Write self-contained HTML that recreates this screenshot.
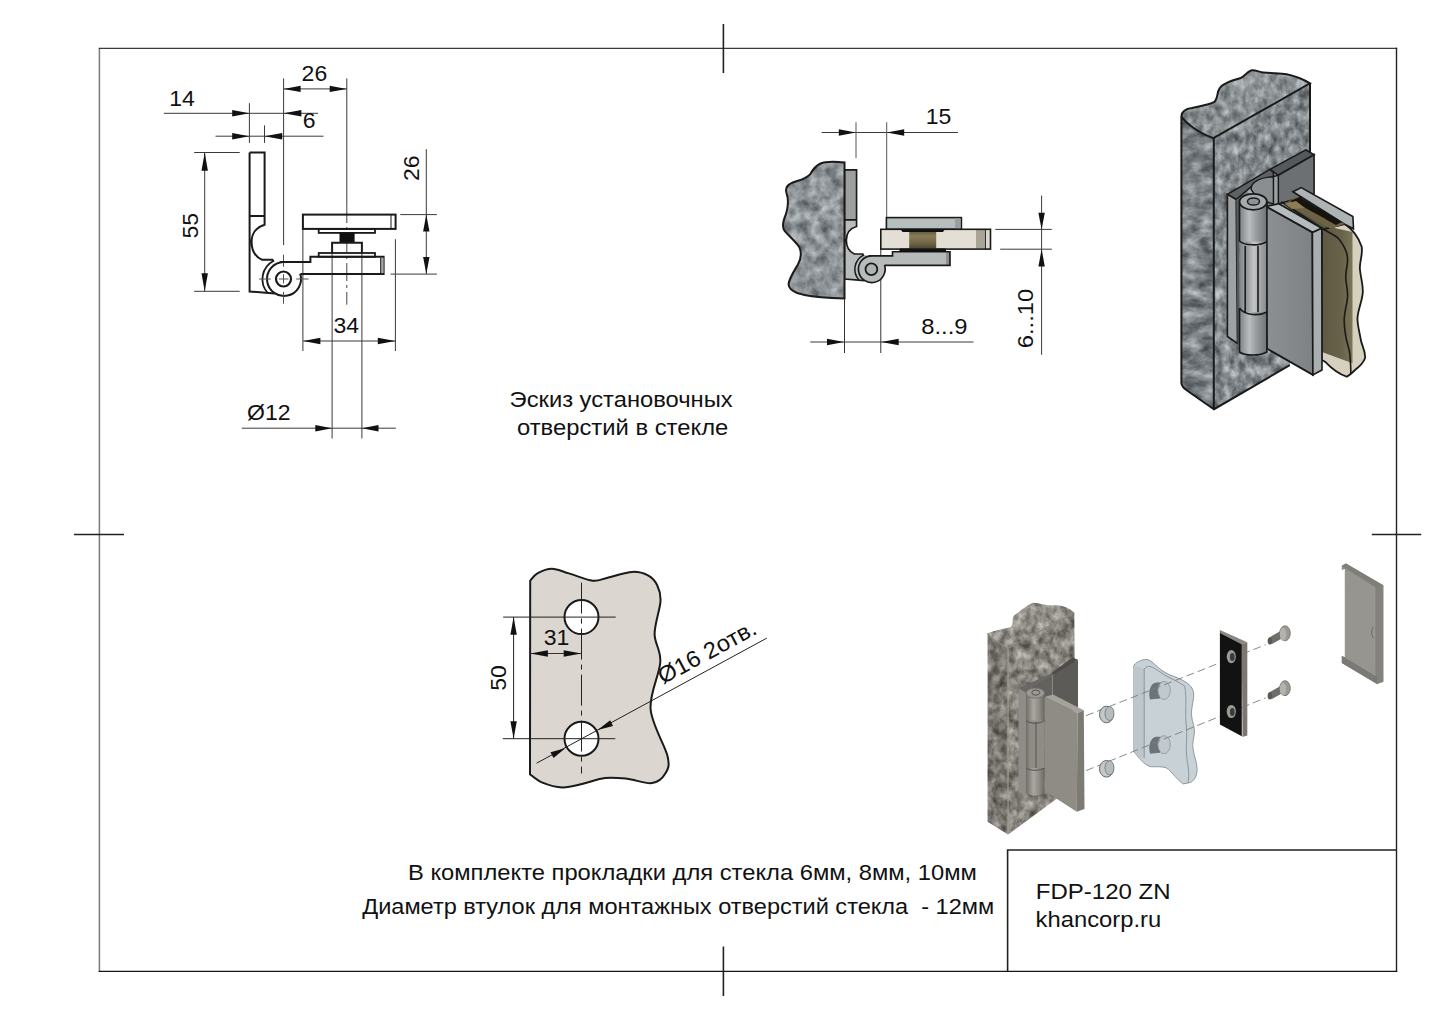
<!DOCTYPE html>
<html><head><meta charset="utf-8"><style>
html,body{margin:0;padding:0;background:#fff;width:1443px;height:1020px;overflow:hidden}
svg{display:block}
text{font-family:"Liberation Sans",sans-serif}
</style></head><body>
<svg width="1443" height="1020" viewBox="0 0 1443 1020">
<defs>
<filter id="stoneG" x="0" y="0" width="100%" height="100%" color-interpolation-filters="sRGB">
  <feTurbulence type="fractalNoise" baseFrequency="0.10 0.09" numOctaves="4" seed="7" result="n"/>
  <feColorMatrix in="n" type="matrix" values="0.6 0 0 0 0.252  0.6 0 0 0 0.276  0.6 0 0 0 0.287  0 0 0 0 1" result="g"/>
  <feComposite in="g" in2="SourceGraphic" operator="in"/>
</filter>
<filter id="stoneT" x="0" y="0" width="100%" height="100%" color-interpolation-filters="sRGB">
  <feTurbulence type="fractalNoise" baseFrequency="0.13 0.09" numOctaves="4" seed="11" result="n"/>
  <feColorMatrix in="n" type="matrix" values="0.65 0 0 0 0.18  0.65 0 0 0 0.204  0.65 0 0 0 0.215  0 0 0 0 1" result="g"/>
  <feComposite in="g" in2="SourceGraphic" operator="in"/>
</filter>
<filter id="stoneL" x="0" y="0" width="100%" height="100%" color-interpolation-filters="sRGB">
  <feTurbulence type="fractalNoise" baseFrequency="0.06 0.10" numOctaves="4" seed="5" result="n"/>
  <feColorMatrix in="n" type="matrix" values="0.65 0 0 0 0.156  0.65 0 0 0 0.18  0.65 0 0 0 0.192  0 0 0 0 1" result="g"/>
  <feComposite in="g" in2="SourceGraphic" operator="in"/>
</filter>
<filter id="stoneB" x="0" y="0" width="100%" height="100%" color-interpolation-filters="sRGB">
  <feTurbulence type="fractalNoise" baseFrequency="0.13 0.10" numOctaves="4" seed="21" result="n"/>
  <feColorMatrix in="n" type="matrix" values="0.68 0 0 0 0.19  0.68 0 0 0 0.175  0.68 0 0 0 0.15  0 0 0 0 1" result="g"/>
  <feComposite in="g" in2="SourceGraphic" operator="in"/>
</filter>
<linearGradient id="knG" x1="0" x2="1" y1="0" y2="0">
  <stop offset="0" stop-color="#7d8184"/><stop offset="0.35" stop-color="#b9bdbf"/><stop offset="0.6" stop-color="#9a9ea1"/><stop offset="1" stop-color="#6f7376"/>
</linearGradient>
<linearGradient id="knG2" x1="0" x2="1" y1="0" y2="0">
  <stop offset="0" stop-color="#8a8e90"/><stop offset="0.4" stop-color="#c4c6c6"/><stop offset="0.7" stop-color="#a3a6a7"/><stop offset="1" stop-color="#85898a"/>
</linearGradient>
<linearGradient id="leafG" x1="0" x2="1" y1="0" y2="0">
  <stop offset="0" stop-color="#8c9093"/><stop offset="1" stop-color="#7e8285"/>
</linearGradient>
<linearGradient id="glassG" x1="0" x2="1" y1="0" y2="0">
  <stop offset="0" stop-color="#3b372a"/><stop offset="0.4" stop-color="#57523f"/><stop offset="0.85" stop-color="#69634b"/><stop offset="1" stop-color="#7a7458"/>
</linearGradient>
<linearGradient id="bushG" x1="0" x2="0" y1="0" y2="1">
  <stop offset="0" stop-color="#5a5036"/><stop offset="0.3" stop-color="#8a7d58"/><stop offset="0.7" stop-color="#6f6546"/><stop offset="1" stop-color="#4e4530"/>
</linearGradient>
</defs>
<defs>
<linearGradient id="knB" x1="0" x2="1" y1="0" y2="0">
  <stop offset="0" stop-color="#6f6d68"/><stop offset="0.4" stop-color="#a9a6a0"/><stop offset="0.7" stop-color="#8f8c86"/><stop offset="1" stop-color="#6a6863"/>
</linearGradient>
<linearGradient id="holeG" x1="0" x2="1" y1="0" y2="0">
  <stop offset="0" stop-color="#5e666a"/><stop offset="1" stop-color="#a9b2b6"/>
</linearGradient>
</defs>

<line x1="99.4" y1="48.4" x2="99.4" y2="971.4" stroke="#7a7a7a" stroke-width="1.5" />
<line x1="98.7" y1="48.4" x2="1397.2" y2="48.4" stroke="#3a3a3a" stroke-width="1.4" />
<line x1="1396.5" y1="47.7" x2="1396.5" y2="972.1" stroke="#222" stroke-width="1.4" />
<line x1="98.7" y1="971.4" x2="1397.2" y2="971.4" stroke="#151515" stroke-width="1.4" />
<line x1="723.4" y1="24.0" x2="723.4" y2="73.0" stroke="#222" stroke-width="1.6" />
<line x1="723.4" y1="946.5" x2="723.4" y2="996.0" stroke="#222" stroke-width="1.6" />
<line x1="74.0" y1="534.5" x2="124.0" y2="534.5" stroke="#222" stroke-width="1.6" />
<line x1="1371.8" y1="534.5" x2="1421.2" y2="534.5" stroke="#222" stroke-width="1.6" />
<polyline points="1007.6,971.3 1007.6,850 1396.5,850" fill="none" stroke="#222" stroke-width="1.6"/>
<line x1="163.8" y1="113.3" x2="318.1" y2="113.3" stroke="#3a3a3a" stroke-width="1.0" />
<polygon points="249.4,113.3 232.2,110.1 232.2,116.5" fill="#111"/>
<polygon points="283.6,113.3 301.4,116.5 301.4,110.1" fill="#111"/>
<line x1="249.4" y1="103.1" x2="249.4" y2="142.9" stroke="#3a3a3a" stroke-width="1.0" />
<line x1="215.5" y1="136.2" x2="323.5" y2="136.2" stroke="#3a3a3a" stroke-width="1.0" />
<polygon points="249.4,136.2 232.2,133.0 232.2,139.4" fill="#111"/>
<polygon points="264.5,136.2 282.2,139.4 282.2,133.0" fill="#111"/>
<line x1="264.5" y1="125.4" x2="264.5" y2="142.9" stroke="#3a3a3a" stroke-width="1.0" />
<line x1="283.6" y1="88.9" x2="346.8" y2="88.9" stroke="#3a3a3a" stroke-width="1.0" />
<polygon points="283.6,88.9 300.6,92.1 300.6,85.7" fill="#111"/>
<polygon points="346.8,88.9 329.7,85.7 329.7,92.1" fill="#111"/>
<line x1="283.6" y1="78.4" x2="283.6" y2="245.1" stroke="#3a3a3a" stroke-width="1.0" />
<line x1="346.8" y1="78.4" x2="346.8" y2="205.0" stroke="#3a3a3a" stroke-width="1.0" />
<line x1="204.7" y1="152.5" x2="204.7" y2="291.3" stroke="#3a3a3a" stroke-width="1.0" />
<polygon points="204.7,152.5 201.5,170.8 207.9,170.8" fill="#111"/>
<polygon points="204.7,291.3 207.9,273.3 201.5,273.3" fill="#111"/>
<line x1="194.2" y1="152.5" x2="239.7" y2="152.5" stroke="#3a3a3a" stroke-width="1.0" />
<line x1="194.2" y1="291.3" x2="239.7" y2="291.3" stroke="#3a3a3a" stroke-width="1.0" />
<line x1="426.3" y1="149.1" x2="426.3" y2="274.1" stroke="#3a3a3a" stroke-width="1.0" />
<polygon points="426.3,214.6 423.1,231.6 429.5,231.6" fill="#111"/>
<polygon points="426.3,274.1 429.5,257.1 423.1,257.1" fill="#111"/>
<line x1="400.3" y1="214.6" x2="436.9" y2="214.6" stroke="#3a3a3a" stroke-width="1.0" />
<line x1="390.6" y1="274.1" x2="436.9" y2="274.1" stroke="#3a3a3a" stroke-width="1.0" />
<line x1="395.4" y1="239.2" x2="395.4" y2="351.0" stroke="#3a3a3a" stroke-width="1.0" />
<line x1="303.2" y1="341.0" x2="395.4" y2="341.0" stroke="#3a3a3a" stroke-width="1.0" />
<polygon points="303.2,341.0 320.4,344.2 320.4,337.8" fill="#111"/>
<polygon points="395.4,341.0 377.8,337.8 377.8,344.2" fill="#111"/>
<line x1="302.9" y1="228.9" x2="302.9" y2="351.0" stroke="#3a3a3a" stroke-width="1.0" />
<line x1="241.8" y1="428.2" x2="395.9" y2="428.2" stroke="#3a3a3a" stroke-width="1.0" />
<polygon points="332.1,428.2 315.3,425.0 315.3,431.4" fill="#111"/>
<polygon points="361.9,428.2 378.5,431.4 378.5,425.0" fill="#111"/>
<line x1="332.1" y1="253.5" x2="332.1" y2="438.5" stroke="#3a3a3a" stroke-width="1.0" />
<line x1="361.9" y1="253.5" x2="361.9" y2="438.5" stroke="#3a3a3a" stroke-width="1.0" />
<line x1="346.8" y1="205" x2="346.8" y2="304.7" stroke="#444" stroke-width="1" stroke-dasharray="18,4,3,4"/>
<path d="M249.6,152.5 H264.6 V224.7 C255,227.5 251.6,235 251.6,242 C251.6,250 255,256.5 261.8,259.7 H272.4 L273.8,261.8 M249.6,152.5 V291.5 L274.7,293.5 M249.6,216.1 H264.6" fill="none" stroke="#1a1a1a" stroke-width="2.0" stroke-linejoin="miter"/>
<path d="M300.2,273.8 A17,17 0 1 1 283.5,262" fill="none" stroke="#1a1a1a" stroke-width="2.0"/>
<path d="M273.3,261.0 A20.6,20.6 0 0 0 267.6,292.8" fill="none" stroke="#1a1a1a" stroke-width="1.8"/>
<circle cx="283.5" cy="279" r="7.5" fill="none" stroke="#1a1a1a" stroke-width="2.2"/>
<line x1="259.1" y1="279.0" x2="270.9" y2="279.0" stroke="#555" stroke-width="1.0" />
<line x1="278.8" y1="279.0" x2="288.5" y2="279.0" stroke="#555" stroke-width="1.0" />
<line x1="296.2" y1="279.0" x2="308.5" y2="279.0" stroke="#555" stroke-width="1.0" />
<line x1="283.5" y1="254.7" x2="283.5" y2="266.8" stroke="#555" stroke-width="1.0" />
<line x1="283.5" y1="274.1" x2="283.5" y2="283.5" stroke="#555" stroke-width="1.0" />
<line x1="283.5" y1="291.8" x2="283.5" y2="303.8" stroke="#555" stroke-width="1.0" />
<path d="M280,262.1 H310.4 V256.8 H383.6 V274.1 H300.5" fill="none" stroke="#1a1a1a" stroke-width="2.0"/>
<rect x="380.7" y="257.8" width="2.9" height="15.3" fill="#aaa"/>
<line x1="380.7" y1="257.5" x2="380.7" y2="273.5" stroke="#1a1a1a" stroke-width="1.0" />
<rect x="302.9" y="214.6" width="92.7" height="14.3" fill="none" stroke="#1a1a1a" stroke-width="2.0"/>
<line x1="391.0" y1="215.0" x2="391.0" y2="228.5" stroke="#1a1a1a" stroke-width="1.0" />
<rect x="318.7" y="228.9" width="56.3" height="4.0" fill="none" stroke="#1a1a1a" stroke-width="1.8"/>
<rect x="318.7" y="253.0" width="56.3" height="3.8" fill="none" stroke="#1a1a1a" stroke-width="1.8"/>
<rect x="339.5" y="232.9" width="15.1" height="10.0" fill="#111"/>
<path d="M332.1,253.5 V242.7 H361.9 V253.5" fill="none" stroke="#1a1a1a" stroke-width="2.0"/>
<text style="white-space:pre" x="169.2" y="106.0" font-size="22" text-anchor="start" fill="#111" textLength="25.58" lengthAdjust="spacingAndGlyphs">14</text>
<text style="white-space:pre" x="301.6" y="80.9" font-size="22" text-anchor="start" fill="#111" textLength="25.58" lengthAdjust="spacingAndGlyphs">26</text>
<text style="white-space:pre" x="302.8" y="127.9" font-size="22" text-anchor="start" fill="#111" textLength="12.79" lengthAdjust="spacingAndGlyphs">6</text>
<text style="white-space:pre" x="197.5" y="238.5" font-size="22" text-anchor="start" fill="#111" transform="rotate(-90 197.5 238.5)" textLength="25.58" lengthAdjust="spacingAndGlyphs">55</text>
<text style="white-space:pre" x="418.7" y="181.0" font-size="22" text-anchor="start" fill="#111" transform="rotate(-90 418.7 181.0)" textLength="25.58" lengthAdjust="spacingAndGlyphs">26</text>
<text style="white-space:pre" x="333.5" y="333.4" font-size="22" text-anchor="start" fill="#111" textLength="25.58" lengthAdjust="spacingAndGlyphs">34</text>
<text style="white-space:pre" x="247.0" y="420.0" font-size="22" text-anchor="start" fill="#111" textLength="43.48" lengthAdjust="spacingAndGlyphs">Ø12</text>
<path d="M844.5,162.4 C835,161.5 825,161.5 820.6,163.5 C815,166 812,171 810.3,174.1 C806,179 800,180 793.4,182.2 C787,184.5 785,188 786.5,193 C788.5,199 788.5,206 786,214 C783,221 781.5,227 784.6,230.9 C788,235 795,241 799.3,247.1 C801.5,252 801,259 797.8,264.7 C794,271 789,279 788.6,283.8 C788.5,289 795,293.5 804.4,294.9 C815,297 830,298 844.5,298.5 Z" fill="#8e9496" filter="url(#stoneG)"/>
<path d="M844.5,162.4 C835,161.5 825,161.5 820.6,163.5 C815,166 812,171 810.3,174.1 C806,179 800,180 793.4,182.2 C787,184.5 785,188 786.5,193 C788.5,199 788.5,206 786,214 C783,221 781.5,227 784.6,230.9 C788,235 795,241 799.3,247.1 C801.5,252 801,259 797.8,264.7 C794,271 789,279 788.6,283.8 C788.5,289 795,293.5 804.4,294.9 C815,297 830,298 844.5,298.5 Z" fill="none" stroke="#1a1a1a" stroke-width="2"/>
<line x1="821.6" y1="132.5" x2="958.0" y2="132.5" stroke="#3a3a3a" stroke-width="1.0" />
<polygon points="856.0,132.5 838.8,129.3 838.8,135.7" fill="#111"/>
<polygon points="886.7,132.5 904.2,135.7 904.2,129.3" fill="#111"/>
<line x1="856.0" y1="122.2" x2="856.0" y2="158.2" stroke="#555" stroke-width="1.0" />
<line x1="886.7" y1="122.2" x2="886.7" y2="217.6" stroke="#555" stroke-width="1.0" />
<text style="white-space:pre" x="925.8" y="124.4" font-size="22" text-anchor="start" fill="#111" textLength="25.58" lengthAdjust="spacingAndGlyphs">15</text>
<line x1="810.3" y1="342.0" x2="973.5" y2="342.0" stroke="#3a3a3a" stroke-width="1.0" />
<polygon points="844.1,342.0 827.0,338.8 827.0,345.2" fill="#111"/>
<polygon points="881.2,342.0 898.7,345.2 898.7,338.8" fill="#111"/>
<line x1="844.5" y1="298.5" x2="844.5" y2="353.0" stroke="#333" stroke-width="1.0" />
<line x1="880.8" y1="249.1" x2="880.8" y2="353.0" stroke="#333" stroke-width="1.0" />
<text style="white-space:pre" x="921.2" y="333.9" font-size="22" text-anchor="start" fill="#111" textLength="46.3" lengthAdjust="spacingAndGlyphs">8...9</text>
<line x1="1041.6" y1="195.5" x2="1041.6" y2="354.8" stroke="#3a3a3a" stroke-width="1.0" />
<polygon points="1041.6,229.4 1044.8,212.7 1038.4,212.7" fill="#111"/>
<polygon points="1041.6,249.2 1038.4,266.5 1044.8,266.5" fill="#111"/>
<line x1="995.3" y1="229.4" x2="1051.8" y2="229.4" stroke="#3a3a3a" stroke-width="1.0" />
<line x1="1000.2" y1="249.2" x2="1051.8" y2="249.2" stroke="#3a3a3a" stroke-width="1.0" />
<text style="white-space:pre" x="1033.3" y="348.2" font-size="22" text-anchor="start" fill="#111" transform="rotate(-90 1033.3 348.2)" textLength="59.3" lengthAdjust="spacingAndGlyphs">6...10</text>
<g transform="translate(648.85,50.185) scale(0.785)">
<path d="M249.6,152.5 H264.6 V216.1 H249.6 Z" fill="#9d9f9f"/>
<path d="M249.6,216.1 H264.6 V224.7 C255,227.5 251.6,235 251.6,242 C251.6,250 255,256.5 261.8,259.7 H273.3 L274,262 L267,292.8 L249.6,291.5 Z" fill="#b9bcbc"/>
<circle cx="283.5" cy="279" r="17" fill="#b9bcbc"/>
<path d="M273.3,261.0 A20.6,20.6 0 0 0 267.6,292.8 L280,296 L283.5,262 Z" fill="#b9bcbc"/>
<path d="M275,262.1 H310.4 V256.8 H383.6 V274.1 H295 Z" fill="#b6bbba"/>
<rect x="378.6" y="257.5" width="5" height="16" fill="#8c9090"/>
<path d="M249.6,152.5 H264.6 V224.7 C255,227.5 251.6,235 251.6,242 C251.6,250 255,256.5 261.8,259.7 H272.4 L273.8,261.8 M249.6,152.5 V291.5 L274.7,293.5 M249.6,216.1 H264.6" fill="none" stroke="#1a1a1a" stroke-width="2.1"/>
<path d="M300.2,273.8 A17,17 0 1 1 283.5,262" fill="none" stroke="#1a1a1a" stroke-width="2.1"/>
<path d="M273.3,261.0 A20.6,20.6 0 0 0 267.6,292.8" fill="none" stroke="#1a1a1a" stroke-width="1.9"/>
<circle cx="283.5" cy="279" r="7.5" fill="#b0b3b3" stroke="#1a1a1a" stroke-width="2.3"/>
<path d="M280,262.1 H310.4 V256.8 H383.6 V274.1 H300.5" fill="none" stroke="#1a1a1a" stroke-width="2.1"/>
</g>
<rect x="886.4" y="217.6" width="75" height="11.7" fill="#b7bfbe" stroke="#1a1a1a" stroke-width="1.6"/>
<rect x="955" y="218.5" width="5.5" height="10" fill="#9aa0a0"/>
<rect x="880.8" y="229.3" width="109.7" height="19.8" fill="#e3dfd5"/>
<rect x="909.2" y="230.5" width="27" height="18" fill="url(#bushG)"/>
<rect x="976" y="230" width="8" height="18.5" fill="#a9a496"/>
<rect x="985.3" y="230" width="4.5" height="18.5" fill="#dcd8ce"/>
<rect x="880.8" y="229.3" width="109.7" height="19.8" fill="none" stroke="#1a1a1a" stroke-width="1.6"/>
<line x1="985.3" y1="229.5" x2="985.3" y2="249.0" stroke="#1a1a1a" stroke-width="1.2" />
<path d="M900.6,229.3 H944.8 L943,232 H902.5 Z" fill="#111"/>
<path d="M900,248.6 H945.5 L946.5,252 H899 Z" fill="#111"/>
<path d="M1181.5,116 C1182,110 1188,108.5 1192,108 C1200,106.5 1210,104.5 1214,102.2 C1218,99 1217,92 1219.2,89.2 C1221,85 1230,81 1240,78.3 C1245,76 1248,71 1251.7,70.3 C1256,70 1259,72 1263.3,72.5 C1272,73.5 1280,73 1286.7,74.2 C1295,76 1303,79 1310,83.3 L1213.4,138.2 C1205,135 1196,130 1190.6,125.7 C1186,122 1182,119 1181.5,116 Z" fill="#9aa0a2" filter="url(#stoneT)"/>
<path d="M1181.5,116 C1182,119 1186,122 1190.6,125.7 C1196,130 1205,135 1213.4,138.2 L1214,409.2 L1189.1,392 C1183,388 1181.2,385 1181.2,383 Z" fill="#8d9395" filter="url(#stoneL)"/>
<path d="M1213.4,138.2 L1310,83.3 L1310,260 L1289.8,365.2 L1214,409.2 Z" fill="#8d9395" filter="url(#stoneT)"/>
<path d="M1181.5,116 C1182,110 1188,108.5 1192,108 C1200,106.5 1210,104.5 1214,102.2 C1218,99 1217,92 1219.2,89.2 C1221,85 1230,81 1240,78.3 C1245,76 1248,71 1251.7,70.3 C1256,70 1259,72 1263.3,72.5 C1272,73.5 1280,73 1286.7,74.2 C1295,76 1303,79 1310,83.3 L1213.4,138.2 C1205,135 1196,130 1190.6,125.7 C1186,122 1182,119 1181.5,116 Z" fill="#fff" fill-opacity="0.1"/>
<path d="M1181.5,116 C1182,110 1188,108.5 1192,108 C1200,106.5 1210,104.5 1214,102.2 C1218,99 1217,92 1219.2,89.2 C1221,85 1230,81 1240,78.3 C1245,76 1248,71 1251.7,70.3 C1256,70 1259,72 1263.3,72.5 C1272,73.5 1280,73 1286.7,74.2 C1295,76 1303,79 1310,83.3 L1213.4,138.2 C1205,135 1196,130 1190.6,125.7 C1186,122 1182,119 1181.5,116 Z M1213.8,138.2 V409.2 M1181.4,116 V383 C1181.2,386 1183,388 1189.1,392 L1214,409.2 L1289.8,365.2 M1310,83.3 V154" fill="none" stroke="#1a1a1a" stroke-width="2"/>
<path d="M1270,169.4 L1305.8,149.8 L1314.1,154.7 L1278.3,175.3 Z" fill="#55595c" stroke="#1a1a1a" stroke-width="1.6"/>
<path d="M1278.3,175.3 L1314.1,154.7 L1314.1,193.4 L1278.3,204 Z" fill="#6c7073" stroke="#1a1a1a" stroke-width="1.6"/>
<path d="M1273.4,176.5 L1278.3,175.3 L1278.3,204 L1273.4,206 Z" fill="#9ca0a2" stroke="#1a1a1a" stroke-width="1.4"/>
<path d="M1227.4,194.4 L1270,169.4 L1273.4,172.5 L1273.4,176.5 L1258,181 L1236.2,199.5 Z" fill="#5e6265" stroke="#1a1a1a" stroke-width="1.6"/>
<path d="M1251.4,190 C1250,183 1258,177.5 1273.4,176.8 L1273.4,204 L1258,199 Z" fill="#8a8e91" stroke="#1a1a1a" stroke-width="1.4"/>
<path d="M1227.4,194.4 L1236.2,199.5 L1237.5,343.5 L1227.4,336.5 Z" fill="#9ea2a4" stroke="#1a1a1a" stroke-width="1.6"/>
<path d="M1236.2,199.5 L1239,199 L1240,343 L1237.5,343.5 Z" fill="#55595b"/>
<path d="M1281.2,201.8 L1323.3,229.2 L1344.7,224.1 C1352,229 1358,236 1361.7,246.7 C1363,256 1359,262 1360,270 C1361,280 1364,287 1362.5,295 C1361,305 1357,312 1357.5,320 C1358,328 1360,334 1360.8,340 C1362,346 1366,352 1365,358.3 C1363,364 1359,367 1355,370 C1352,373 1350,375 1346.7,376.7 C1338,374 1331,368 1325,361.7 L1321.8,360 L1321.8,228.2 Z" fill="#d6d1bf"/>
<path d="M1281.2,201.8 L1330,227 L1352.5,232 L1352.5,363.3 L1322,352 L1321.8,228.2 Z" fill="url(#glassG)"/>
<path d="M1281.2,201.8 L1323.3,229.2 L1344.7,224.1 C1352,229 1358,236 1361.7,246.7 C1363,256 1359,262 1360,270 C1361,280 1364,287 1362.5,295 C1361,305 1357,312 1357.5,320 C1358,328 1360,334 1360.8,340 C1362,346 1366,352 1365,358.3 C1363,364 1359,367 1355,370 C1352,373 1350,375 1346.7,376.7 C1338,374 1331,368 1325,361.7 L1321.8,360 L1321.8,228.2 Z" fill="none" stroke="#1a1a1a" stroke-width="1.8"/>
<path d="M1323.3,229.2 C1330,233 1336,236 1338.3,238.3 C1343,244 1347,251 1347.5,258.3 C1348,266 1345,272 1345.8,278.3 C1346,285 1348,290 1347.5,296.7 C1347,306 1344,312 1344.2,320 C1344,326 1345,331 1345.8,336.7 C1347,344 1350,350 1350,356.7 C1350.5,363 1351,368 1350.8,373.3" fill="none" stroke="#1a1a1a" stroke-width="1.6"/>
<path d="M1292.9,191.8 L1301.2,187.6 L1352.9,216.5 L1353.5,228.8 L1344.7,224.1 Z" fill="#aeb3b6" stroke="#1a1a1a" stroke-width="1.6"/>
<path d="M1296,196 L1344.7,224.1 L1330.6,228.8 L1285,204 Z" fill="#6d6244"/>
<path d="M1290,201 L1300,197 C1310,203 1325,212 1342,222 L1336,225 C1320,216 1305,207 1290,201 Z" fill="#15140f"/>
<path d="M1285,204 L1296,201 L1305,208 L1292,209 Z" fill="#8c7d55"/>
<path d="M1265.9,206.5 L1278.8,203.7 L1321.8,228.2 L1312.4,232.4 Z" fill="#b6bbbe" stroke="#1a1a1a" stroke-width="1.6"/>
<path d="M1265.9,206.5 L1312.4,232.4 L1312.9,374.9 L1266.9,348.6 Z" fill="url(#leafG)" stroke="#1a1a1a" stroke-width="1.8"/>
<path d="M1312.4,232.4 L1321.8,228.2 L1322,370 L1312.9,374.9 Z" fill="#a9aeb1" stroke="#1a1a1a" stroke-width="1.6"/>
<path d="M1239.5,201.8 L1239.5,352 C1245,356 1260,356 1266.9,352 L1266.9,201.8 Z" fill="url(#knG)"/>
<path d="M1245.2,241.6 L1245.2,312 L1266.9,312 L1266.9,241.6 Z" fill="url(#knG2)"/>
<path d="M1239.5,201.8 V241 C1245,246 1260,246 1266.9,241.6 M1245.2,246 V312 M1239.5,308 V352 C1245,356 1260,356 1266.9,352 V201.8 M1239.5,308 C1245,316 1260,316 1266.9,312 M1258,246 V312" fill="none" stroke="#1a1a1a" stroke-width="1.6"/>
<ellipse cx="1253.2" cy="201.8" rx="13.7" ry="8" fill="#a6aaad" stroke="#1a1a1a" stroke-width="1.8"/>
<ellipse cx="1253.5" cy="201.5" rx="6" ry="3.6" fill="#8e9295" stroke="#1a1a1a" stroke-width="1.5"/>
<path d="M987.6,633.3 C995,630 1005,629 1010.6,627 C1015,624 1010,618 1016,614 C1022,610 1028,604 1033.5,602.7 C1040,603 1046,606 1053.9,605.3 C1062,605 1070,608 1074.3,612.9 L1008,648.6 C1000,644 992,640 987.6,633.3 Z" fill="#8a857b" filter="url(#stoneB)"/>
<path d="M987.6,633.3 C992,640 1000,644 1008,648.6 L1008,834.6 L987.6,821.8 Z" fill="#7f7a70" filter="url(#stoneB)"/>
<path d="M1008,648.6 L1074.3,612.9 L1075.5,800 L1056.4,798.9 L1008,834.6 Z" fill="#878278" filter="url(#stoneB)"/>
<path d="M987.6,633.3 C992,640 1000,644 1008,648.6 L1008,834.6 L987.6,821.8 Z" fill="#000" fill-opacity="0.10"/>
<path d="M987.6,633.3 C995,630 1005,629 1010.6,627 C1015,624 1010,618 1016,614 C1022,610 1028,604 1033.5,602.7 C1040,603 1046,606 1053.9,605.3 C1062,605 1070,608 1074.3,612.9 L1008,648.6 C1000,644 992,640 987.6,633.3 Z" fill="#fff" fill-opacity="0.08"/>
<path d="M987.6,633.3 C992,640 1000,644 1008,648.6 L1074.3,612.9" fill="none" stroke="#8a857b" stroke-width="1.2"/>
<path d="M1008,649 V834" fill="none" stroke="#a39e94" stroke-width="1.2"/>
<path d="M1051,673.5 L1072.5,657.4 L1078,659.8 L1056,675 Z" fill="#4e4c48"/>
<path d="M1053,675 L1078,659.8 L1078,706.9 L1053,720 Z" fill="#5d5b57"/>
<path d="M1050,676 L1053,675 L1053,720 L1050,721 Z" fill="#8a8882"/>
<path d="M1018.6,688.2 L1051,673.5 L1053,675 L1040,690 L1026,693 Z" fill="#6a6864"/>
<path d="M1032,689 C1036,683 1044,680 1052,676 L1052,702 L1040,695 Z" fill="#64625e"/>
<path d="M1018.6,688.2 L1026,693 L1026,795 L1018.6,791.3 Z" fill="#8e8c86"/>
<path d="M1044.6,697 L1053,694.6 L1083.8,710.3 L1077.5,713 Z" fill="#a4a29b"/>
<path d="M1044.6,697 L1077.5,713 L1076.8,811.7 L1045,791.3 Z" fill="#8f8c85"/>
<path d="M1077.5,713 L1083.8,710.3 L1084.5,809 L1076.8,811.7 Z" fill="#7c7a73"/>
<path d="M1026,693 L1026,792 C1030,797 1040,797 1044.6,792 L1044.6,693 Z" fill="url(#knB)"/>
<path d="M1029.4,720.6 L1029.4,768 L1044.6,768 L1044.6,720.6 Z" fill="#8f8c86"/>
<path d="M1026,720.6 C1030,724 1040,724 1044.6,720.6 M1026,768 C1030,771 1040,771 1044.6,768 M1036,722 V768" fill="none" stroke="#55534f" stroke-width="1"/>
<ellipse cx="1035.3" cy="693.1" rx="9.3" ry="5" fill="#9b9892" stroke="#6e6c67" stroke-width="0.8"/>
<ellipse cx="1035.8" cy="692.6" rx="4" ry="2.6" fill="none" stroke="#55534f" stroke-width="1"/>
<path d="M1133.9,665.1 C1138,661 1143,659 1147.7,659.6 C1152,661 1155,665 1158.7,667.8 C1162,671 1166,673 1170,675 C1176,677 1184,680 1190.2,685.7 C1193,689 1194,693 1193.7,696.7 C1193,703 1191,709 1191.6,715.9 C1192,722 1195,727 1194.4,732.4 C1194,738 1192,743 1193,748.9 C1194,756 1197,762 1197.1,769.5 C1197,776 1194,781 1190.2,782.5 L1183.4,783.9 C1178,781 1172,772 1166.9,768.1 C1162,766 1156,767 1150.4,766.7 C1145,765 1142,761 1139.4,758.5 L1133.9,751.6 Z" fill="#c8d1d6" stroke="#8f989d" stroke-width="1"/>
<path d="M1133.9,665.1 L1144.2,669 L1144.2,758 L1139.4,758.5 L1133.9,751.6 Z" fill="#bdc6cb"/>
<path d="M1144.2,669 V758 M1144.2,669 C1148,664 1152,667 1158.7,671 C1166,677 1176,680 1184.7,686 C1187,700 1185,712 1186,722 C1188,735 1185,748 1187,760 C1189,770 1189,777 1188.2,782.5" fill="none" stroke="#7e878c" stroke-width="0.8"/>
<path d="M1156,682.5 C1150,683.5 1148,692.5 1150,699.5 L1160,698.5 L1164,682.5 Z" fill="#6c7478"/>
<ellipse cx="1164.1" cy="690.5" rx="6.2" ry="9" fill="#c0c9ce" stroke="#8a9398" stroke-width="0.8"/>
<path d="M1156,736.7 C1150,737.7 1148,746.7 1150,753.7 L1160,752.7 L1164,736.7 Z" fill="#6c7478"/>
<ellipse cx="1164.1" cy="744.7" rx="6.2" ry="9" fill="#c0c9ce" stroke="#8a9398" stroke-width="0.8"/>
<line x1="1086" y1="715.7" x2="1265.8" y2="644.7" stroke="#7c7c7c" stroke-width="0.9" stroke-dasharray="8,4"/>
<line x1="1086" y1="770.6" x2="1265.8" y2="697.8" stroke="#7c7c7c" stroke-width="0.9" stroke-dasharray="8,4"/>
<ellipse cx="1106.5" cy="714.5" rx="7" ry="8.3" fill="#c3c8ca" stroke="#666" stroke-width="1"/>
<ellipse cx="1109.5" cy="713.5" rx="4.5" ry="7" fill="#b6bbbe" stroke="#6f7376" stroke-width="0.8"/>
<ellipse cx="1106.5" cy="768.8" rx="7" ry="8.3" fill="#c3c8ca" stroke="#666" stroke-width="1"/>
<ellipse cx="1109.5" cy="767.8" rx="4.5" ry="7" fill="#b6bbbe" stroke="#6f7376" stroke-width="0.8"/>
<path d="M1219.9,629.9 L1247.3,642.2 L1241.8,644.3 L1220.6,633.3 Z" fill="#8a8780"/>
<path d="M1241.8,644.3 L1247.3,642.2 L1247.3,735.5 L1242.5,736.9 Z" fill="#7b7872"/>
<path d="M1219.9,629.9 L1220.6,633.3 L1241.8,644.3 L1241.8,736.2 L1219.9,724.5 Z" fill="#121212"/>
<ellipse cx="1231.3" cy="656.6" rx="4.6" ry="6.6" fill="#9c9a95"/>
<ellipse cx="1232.3" cy="657.1" rx="2.4" ry="4" fill="#3c3b38"/>
<ellipse cx="1231.3" cy="711.5" rx="4.6" ry="6.6" fill="#9c9a95"/>
<ellipse cx="1232.3" cy="712.0" rx="2.4" ry="4" fill="#3c3b38"/>
<path d="M1268.6,637.8 L1281,630.8 L1284,637.3 L1271.5,644.3 Z" fill="#6f6d69"/>
<ellipse cx="1269.8" cy="641.0999999999999" rx="2.2" ry="3.4" fill="#5a5854"/>
<ellipse cx="1285" cy="633.3" rx="5.3" ry="7.5" fill="#9a9892" stroke="#6e6c67" stroke-width="0.8"/>
<ellipse cx="1283" cy="634.3" rx="3.2" ry="6.5" fill="#b4b2ac"/>
<path d="M1268.6,692.7 L1281,685.7 L1284,692.2 L1271.5,699.2 Z" fill="#6f6d69"/>
<ellipse cx="1269.8" cy="696.0" rx="2.2" ry="3.4" fill="#5a5854"/>
<ellipse cx="1285" cy="688.2" rx="5.3" ry="7.5" fill="#9a9892" stroke="#6e6c67" stroke-width="0.8"/>
<ellipse cx="1283" cy="689.2" rx="3.2" ry="6.5" fill="#b4b2ac"/>
<path d="M1341.8,565.7 L1346,563.5 L1383.3,585.3 L1383.3,681.8 L1377,684.1 L1341.8,663 L1341.8,656 L1344.9,657 L1344.9,569 L1341.8,570 Z" fill="#8e8d88"/>
<path d="M1344.9,569 L1375.5,587 L1375.5,676 L1344.9,657 Z" fill="#969590"/>
<path d="M1375.5,587 L1383.3,585.3 L1383.3,681.8 L1377,684.1 L1375.5,676 Z" fill="#83827d"/>
<path d="M1341.8,565.7 L1346,563.5 L1383.3,585.3 L1377,588 Z" fill="#7f7e79"/>
<path d="M1341.8,656 L1377,677 L1377,684.1 L1341.8,663 Z" fill="#7a7974"/>
<path d="M1373.5,627 C1371,630 1371,635 1373.5,638" fill="none" stroke="#6c6b66" stroke-width="1"/>
<path d="M530.2,580.7 C531.4,579.5 533.8,575.4 537.4,573.4 C541.0,571.4 546.6,568.8 551.9,568.8 C557.2,568.8 562.2,571.4 569.0,573.4 C575.8,575.4 586.1,580.0 592.7,580.7 C599.3,581.4 601.9,578.9 608.5,577.4 C615.1,575.9 625.6,572.2 632.2,571.9 C638.8,571.6 643.8,573.2 648.0,575.4 C652.2,577.6 655.1,581.0 657.2,585.3 C659.3,589.6 660.9,593.0 660.5,601.1 C660.1,609.2 654.6,623.9 654.6,634.0 C654.6,644.1 661.0,649.5 660.3,662.0 C659.6,674.5 649.4,693.3 650.6,709.0 C651.8,724.7 665.0,745.2 667.5,756.0 C670.0,766.8 667.9,769.0 665.3,773.5 C662.7,778.0 658.4,782.2 652.0,783.1 C645.6,784.0 634.8,779.6 627.0,778.7 C619.2,777.9 612.3,777.1 605.0,778.0 C597.7,778.9 590.1,782.2 583.0,783.8 C575.9,785.4 569.3,787.7 562.4,787.5 C555.5,787.3 547.2,784.6 541.8,782.4 C536.4,780.2 532.0,775.6 530.0,774.3 Z" fill="#dbd6cf" stroke="#1a1a1a" stroke-width="2"/>
<circle cx="581.5" cy="617.1" r="17" fill="#fff" stroke="#1a1a1a" stroke-width="2"/>
<circle cx="581.5" cy="738.7" r="17" fill="#fff" stroke="#1a1a1a" stroke-width="2"/>
<line x1="581.5" y1="582.6" x2="581.5" y2="773.5" stroke="#222" stroke-width="1" stroke-dasharray="31,5,5,5"/>
<line x1="503.2" y1="617.1" x2="615.7" y2="617.1" stroke="#222" stroke-width="1.0" />
<line x1="502.8" y1="738.7" x2="615.3" y2="738.7" stroke="#222" stroke-width="1.0" />
<line x1="513.6" y1="617.1" x2="513.6" y2="738.7" stroke="#222" stroke-width="1.0" />
<polygon points="513.6,617.1 510.4,634.7 516.8,634.7" fill="#111"/>
<polygon points="513.6,738.7 516.8,721.3 510.4,721.3" fill="#111"/>
<text style="white-space:pre" x="506.3" y="690.7" font-size="22" text-anchor="start" fill="#111" transform="rotate(-90 506.3 690.7)" textLength="25.58" lengthAdjust="spacingAndGlyphs">50</text>
<line x1="530.2" y1="653.5" x2="581.5" y2="653.5" stroke="#333" stroke-width="1.0" />
<polygon points="530.2,653.5 547.9,656.7 547.9,650.3" fill="#111"/>
<polygon points="581.5,653.5 563.7,650.3 563.7,656.7" fill="#111"/>
<text style="white-space:pre" x="543.8" y="645.2" font-size="22" text-anchor="start" fill="#111" textLength="25.58" lengthAdjust="spacingAndGlyphs">31</text>
<line x1="536.6" y1="763.2" x2="766.8" y2="638.1" stroke="#222" stroke-width="1.0" />
<polygon points="565.3,748.2 550.5,752.3 553.5,757.9" fill="#111"/>
<polygon points="597.6,730.1 613.0,726.0 610.2,720.2" fill="#111"/>
<text style="white-space:pre" x="663.0" y="684.5" font-size="23" text-anchor="start" fill="#111" transform="rotate(-28.3 663.0 684.5)" textLength="108.3" lengthAdjust="spacingAndGlyphs">Ø16 2отв.</text>
<text style="white-space:pre" x="408.0" y="879.7" font-size="22.5" text-anchor="start" fill="#111" textLength="568.8" lengthAdjust="spacingAndGlyphs">В комплекте прокладки для стекла 6мм, 8мм, 10мм</text>
<text style="white-space:pre" x="362.2" y="914.0" font-size="22.5" text-anchor="start" fill="#111" textLength="632" lengthAdjust="spacingAndGlyphs">Диаметр втулок для монтажных отверстий стекла  - 12мм</text>
<text style="white-space:pre" x="509.6" y="406.6" font-size="22.5" text-anchor="start" fill="#111" textLength="223.0" lengthAdjust="spacingAndGlyphs">Эскиз установочных</text>
<text style="white-space:pre" x="517.0" y="434.9" font-size="22.5" text-anchor="start" fill="#111" textLength="211.3" lengthAdjust="spacingAndGlyphs">отверстий в стекле</text>
<text style="white-space:pre" x="1035.8" y="899.1" font-size="22.5" text-anchor="start" fill="#111" textLength="134.7" lengthAdjust="spacingAndGlyphs">FDP-120 ZN</text>
<text style="white-space:pre" x="1035.6" y="927.4" font-size="22.5" text-anchor="start" fill="#111" textLength="125.7" lengthAdjust="spacingAndGlyphs">khancorp.ru</text>
</svg>
</body></html>
